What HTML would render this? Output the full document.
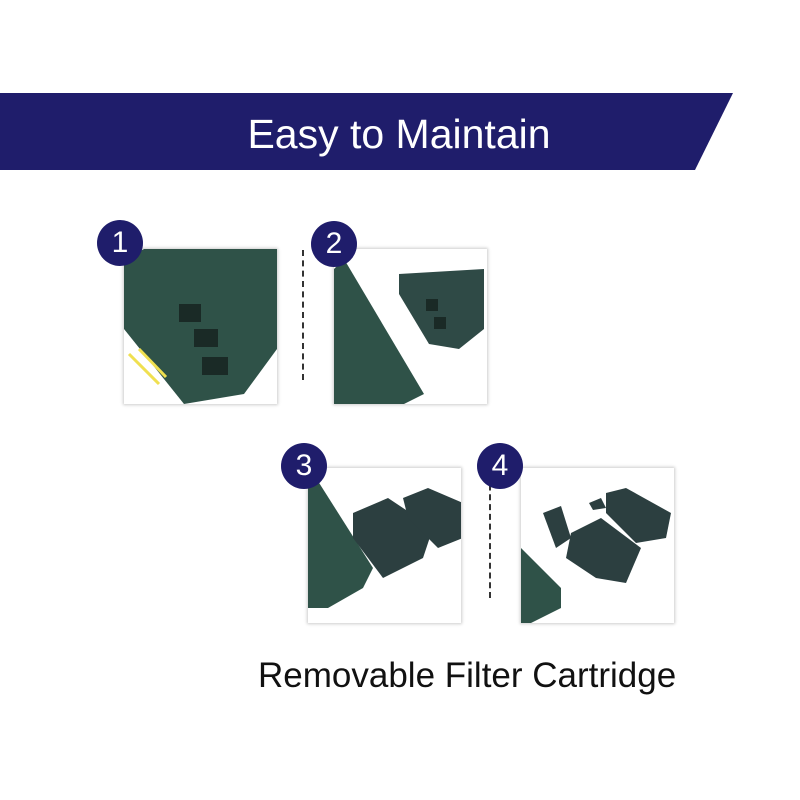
<!DOCTYPE html>
<html><head><style>
body{margin:0;width:800px;height:800px;background:#fff;position:relative;overflow:hidden;font-family:"Liberation Sans",sans-serif}
.p{position:absolute;width:153px;height:155px;background:#fff;box-shadow:0 0 3px 1px #ccc;overflow:hidden}
.c{position:absolute;width:46px;height:46px;border-radius:50%;background:#1f1d6b;color:#fff;font-size:30px;text-align:center;line-height:46px;z-index:3}
.d{position:absolute;width:0;border-left:2px dashed #333}
</style></head><body>
<svg style="position:absolute;left:0;top:0" width="800" height="800">
<polygon points="0,93 733,93 695,170 0,170" fill="#1f1d6b"/>
<text x="399" y="148" fill="#fff" font-size="41" text-anchor="middle" font-family="Liberation Sans">Easy to Maintain</text>
</svg>
<div class="p" style="left:124px;top:249px"><svg width="153" height="155">
<polygon points="0,10 20,0 153,0 153,100 120,145 60,155 0,80" fill="#2f5248"/>
<rect x="55" y="55" width="22" height="18" fill="#1a2a26"/><rect x="70" y="80" width="24" height="18" fill="#1a2a26"/><rect x="78" y="108" width="26" height="18" fill="#1a2a26"/>
<line x1="5" y1="105" x2="35" y2="135" stroke="#f0e050" stroke-width="3"/><line x1="15" y1="100" x2="42" y2="128" stroke="#f0e050" stroke-width="3"/>
</svg></div>
<div class="p" style="left:334px;top:249px"><svg width="153" height="155">
<polygon points="0,20 10,10 90,145 70,155 0,155" fill="#2f5248"/>
<polygon points="65,25 150,20 150,80 125,100 95,95 65,45" fill="#2f4a46"/>
<rect x="92" y="50" width="12" height="12" fill="#1a2a26"/><rect x="100" y="68" width="12" height="12" fill="#1a2a26"/>
</svg></div>
<div class="p" style="left:308px;top:468px"><svg width="153" height="155">
<polygon points="0,10 8,10 65,100 55,120 20,140 0,140" fill="#2f5248"/>
<polygon points="45,45 80,30 125,60 115,90 75,110 45,70" fill="#2c3f40"/>
<polygon points="95,30 120,20 155,35 155,70 130,80 100,50" fill="#2c3f40"/>
</svg></div>
<div class="p" style="left:521px;top:468px"><svg width="153" height="155">
<polygon points="0,80 40,120 40,140 10,155 0,155" fill="#2f5248"/>
<polygon points="22,45 40,38 50,70 35,80" fill="#2c3f40"/>
<polygon points="50,65 80,50 120,80 105,115 75,110 45,90" fill="#2c3f40"/>
<polygon points="85,25 105,20 150,45 145,70 115,75 85,45" fill="#2c3f40"/>
<polygon points="68,35 80,30 85,40 72,42" fill="#2c3f40"/>
</svg></div>
<div class="d" style="left:302px;top:250px;height:130px"></div>
<div class="d" style="left:489px;top:465px;height:133px"></div>
<div class="c" style="left:97px;top:220px">1</div>
<div class="c" style="left:311px;top:221px">2</div>
<div class="c" style="left:281px;top:443px">3</div>
<div class="c" style="left:477px;top:443px">4</div>
<div style="position:absolute;left:258px;top:656px;font-size:35px;color:#111;white-space:nowrap">Removable Filter Cartridge</div>
</body></html>
